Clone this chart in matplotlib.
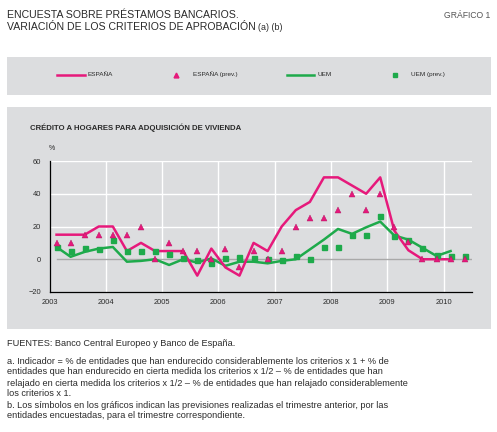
import matplotlib
matplotlib.use("Agg")
import matplotlib.pyplot as plt
from matplotlib.patches import Rectangle
from matplotlib.lines import Line2D
import numpy as np

plt.rcParams['font.family'] = ['Liberation Sans', 'DejaVu Sans']

# datos trimestrales desde 2003 T1
espana = [15, 15, 15, 20, 20, 5, 10, 5, 5, 5, -10, 6.5, -5, -10, 10,
          5, 20, 30, 35, 50, 50, 45, 40, 50, 17.5, 5.5, 0, 0, 0]
uem = [7.5, 1.5, 4.5, 6.5, 7.5, -1.5, -1, 0, -3.5, 0, -2, 0.5, -4, -1.5, -1.5,
       -2.5, -1, 0, 6, 12, 18.5, 15.5, 19.5, 23, 14.5, 12, 7, 2, 5]
espana_prev = [10, 10, 15, 15, 15, 15, 20, 0, 10, 5, 5, 0, 6.5, -5, 5,
               0, 5, 20, 25, 25, 30, 40, 30, 40, 20, 10.5, 0, 0, 0, 0]
uem_prev = [7.5, 5, 7, 6.5, 12, 5, 5, 5, 3, 0.5, -0.5, -2, 0.5, 1.5, 1,
            0, -0.5, 2, 0, 7.5, 7.5, 15, 15, 26.5, 14, 12, 7, 2.5, 1.8, 2]
anios = [2003, 2004, 2005, 2006, 2007, 2008, 2009, 2010]
yticks = [-20, 0, 20, 40, 60]

rosa = '#e6197b'
verde = '#1eaa4b'
gris = '#dcdddf'
texto = '#2a2a2a'

W, H = 497, 432
def fx(x):
    return x / W
def fy(y):
    return 1 - y / H

fig = plt.figure(figsize=(W / 100, H / 100), dpi=100)

# fondos grises
fig.add_artist(Rectangle((fx(7), fy(95)), fx(491) - fx(7), fy(57) - fy(95),
                         transform=fig.transFigure, color=gris, lw=0, zorder=-5))
fig.add_artist(Rectangle((fx(7), fy(329)), fx(491) - fx(7), fy(107) - fy(329),
                         transform=fig.transFigure, color=gris, lw=0, zorder=-5))

# titulos
fig.text(fx(7), fy(15), "ENCUESTA SOBRE PRÉSTAMOS BANCARIOS.", fontsize=7.6,
         color=texto, va='center', ha='left')
t2 = fig.text(fx(7), fy(27), "VARIACIÓN DE LOS CRITERIOS DE APROBACIÓN", fontsize=7.6,
              color=texto, va='center', ha='left')
fig.canvas.draw()
bb = t2.get_window_extent()
fig.text(bb.x1 / fig.dpi / fig.get_figwidth() + 0.005, fy(27), "(a) (b)", fontsize=6.4,
         color=texto, va='center', ha='left')
fig.text(fx(490), fy(15), "GRÁFICO 1", fontsize=6.2, color='#555555', va='center', ha='right')

# leyenda
ly = fy(74.5)
fig.add_artist(Line2D([fx(57), fx(85)], [ly, ly], color=rosa, lw=1.8, transform=fig.transFigure))
fig.text(fx(88), ly, "ESPAÑA", fontsize=4.6, color=texto, va='center')
fig.add_artist(Line2D([fx(176)], [ly], marker='^', ms=3.5, color=rosa, lw=0, transform=fig.transFigure))
fig.text(fx(193), ly, "ESPAÑA (prev.)", fontsize=4.6, color=texto, va='center')
fig.add_artist(Line2D([fx(287), fx(314)], [ly, ly], color=verde, lw=1.8, transform=fig.transFigure))
fig.text(fx(317), ly, "UEM", fontsize=4.6, color=texto, va='center')
fig.add_artist(Line2D([fx(395)], [ly], marker='s', ms=3.5, color=verde, lw=0, transform=fig.transFigure))
fig.text(fx(411), ly, "UEM (prev.)", fontsize=4.6, color=texto, va='center')

# grafico
ax = fig.add_axes([fx(49.5), fy(292), fx(471.7) - fx(49.5), fy(161) - fy(292)])
ax.set_facecolor('none')
t = 2003.125 + 0.25 * np.arange(len(espana_prev))

ax.set_xlim(2003, 2010.5)
ax.set_ylim(-20, 60)
ax.set_xticks(anios)
ax.set_yticks(yticks)
ax.tick_params(length=0, labelsize=5.4, colors=texto, pad=5)
ax.tick_params(axis='y', pad=6)
for s in ['top', 'right']:
    ax.spines[s].set_visible(False)
for s in ['left', 'bottom']:
    ax.spines[s].set_color('black')
    ax.spines[s].set_linewidth(0.9)

for a in anios[1:]:
    ax.plot([a, a], [-20, 60], color='white', lw=1.0, zorder=0)
for v in yticks[2:]:
    ax.plot([2003, 2010.5], [v, v], color='white', lw=1.0, zorder=0)
ax.plot([t[0], 2010.5], [0, 0], color='#a9a9a9', lw=1.0, zorder=1)

ax.plot(t[:len(uem)], uem, color=verde, lw=1.8, zorder=2)
ax.plot(t[:len(espana)], espana, color=rosa, lw=1.8, zorder=3)
ax.plot(t, uem_prev, 's', color=verde, ms=3.6, zorder=4, clip_on=False)
ax.plot(t, espana_prev, '^', color=rosa, mec='#b01260', mew=0.3, ms=4.2, zorder=5, clip_on=False)

fig.text(fx(30), fy(128), "CRÉDITO A HOGARES PARA ADQUISICIÓN DE VIVIENDA", fontsize=5.6,
         fontweight='bold', color=texto, va='center')
fig.text(fx(49), fy(148), "%", fontsize=5, color=texto, va='center')

# notas
fig.text(fx(7), fy(343), "FUENTES: Banco Central Europeo y Banco de España.", fontsize=6.6,
         color=texto, va='center')
notas = [
    "a. Indicador = % de entidades que han endurecido considerablemente los criterios x 1 + % de",
    "entidades que han endurecido en cierta medida los criterios x 1/2 – % de entidades que han",
    "relajado en cierta medida los criterios x 1/2 – % de entidades que han relajado considerablemente",
    "los criterios x 1.",
    "b. Los símbolos en los gráficos indican las previsiones realizadas el trimestre anterior, por las",
    "entidades encuestadas, para el trimestre correspondiente.",
]
for i, n in enumerate(notas):
    fig.text(fx(7), fy(361 + 11 * i), n, fontsize=6.6, color=texto, va='center')

fig.savefig("out.png", dpi=100)
